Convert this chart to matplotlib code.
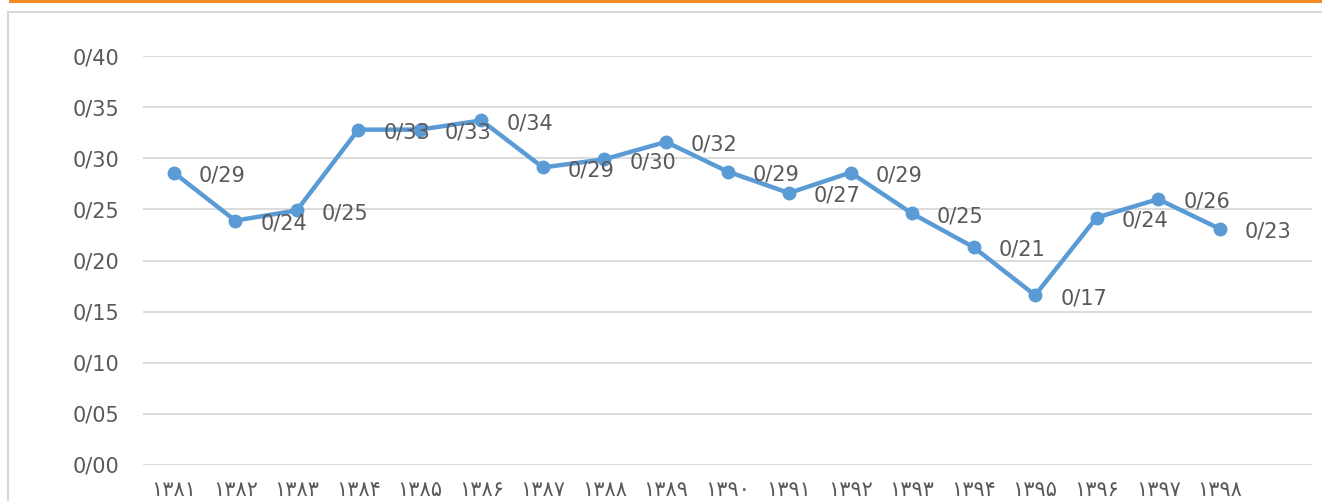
import matplotlib
matplotlib.use('Agg')
import matplotlib.pyplot as plt
from matplotlib.patches import Rectangle
from matplotlib.ticker import FixedLocator, FuncFormatter

# --- DATOS ---
anios = ['۱۳۸۱', '۱۳۸۲', '۱۳۸۳', '۱۳۸۴', '۱۳۸۵', '۱۳۸۶', '۱۳۸۷', '۱۳۸۸', '۱۳۸۹',
         '۱۳۹۰', '۱۳۹۱', '۱۳۹۲', '۱۳۹۳', '۱۳۹۴', '۱۳۹۵', '۱۳۹۶', '۱۳۹۷', '۱۳۹۸']
valores = [0.286, 0.239, 0.249, 0.328, 0.328, 0.337, 0.291, 0.299, 0.316,
           0.287, 0.266, 0.286, 0.246, 0.213, 0.166, 0.242, 0.260, 0.231]
etiquetas = ['0/29', '0/24', '0/25', '0/33', '0/33', '0/34', '0/29', '0/30', '0/32',
             '0/29', '0/27', '0/29', '0/25', '0/21', '0/17', '0/24', '0/26', '0/23']
ticks_y = [0.00, 0.05, 0.10, 0.15, 0.20, 0.25, 0.30, 0.35, 0.40]

gris_texto = '#595959'
azul = '#5B9BD5'

fig = plt.figure(figsize=(13.22, 5.01), dpi=100)

# barra naranja superior y borde del grafico
fig.patches.append(Rectangle((9 / 1322, 498 / 501), 1 - 9 / 1322, 3 / 501,
                             transform=fig.transFigure, facecolor='#F58A25',
                             edgecolor='none', zorder=0))
fig.patches.append(Rectangle((8 / 1322, -0.1), 1.2, (501 - 12) / 501 + 0.1,
                             transform=fig.transFigure, facecolor='none',
                             edgecolor='#D9D9D9', linewidth=1.5, zorder=0))

ax = fig.add_axes([143 / 1322, 36 / 501, (1312 - 143) / 1322, (465 - 56) / 501])
x = list(range(len(valores)))
ax.plot(x, valores, color=azul, linewidth=3.2, marker='o', markersize=9,
        solid_capstyle='round', zorder=3)

for xi, v, t in zip(x, valores, etiquetas):
    ax.annotate(t, (xi, v), xytext=(18, -2), textcoords='offset points',
                ha='left', va='center', fontsize=15, color=gris_texto, zorder=4)

ax.set_xlim(-0.5, 18.5)
ax.set_ylim(0, 0.40)
ax.yaxis.set_major_locator(FixedLocator(ticks_y))
ax.yaxis.set_major_formatter(FuncFormatter(lambda v, pos: f'0/{int(round(v * 100)):02d}'))
ax.set_xticks(x)
ax.set_xticklabels(anios)
ax.grid(axis='y', color='#D9D9D9', linewidth=1.3, zorder=0)
ax.tick_params(axis='y', length=0, pad=17, labelsize=15, labelcolor=gris_texto)
ax.tick_params(axis='x', length=0, pad=11, labelsize=15, labelcolor=gris_texto)
for s in ax.spines.values():
    s.set_visible(False)

plt.savefig('out.png', dpi=100)
plt.close()
